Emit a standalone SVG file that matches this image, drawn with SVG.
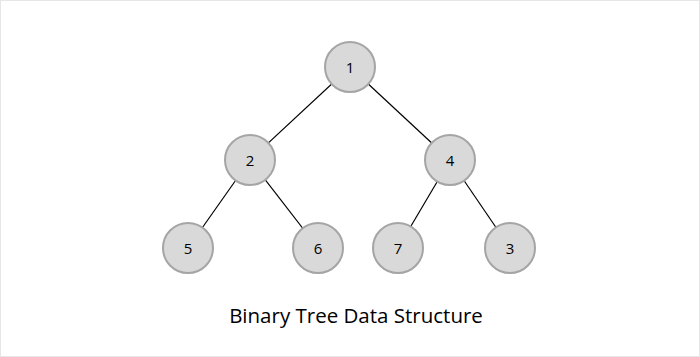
<svg xmlns="http://www.w3.org/2000/svg" width="700" height="357" viewBox="0 0 700 357">
<style>
.n circle{fill:#d9d9d9;stroke:#a5a5a5;stroke-width:2}
.n text{font-family:"Open Sans","Liberation Sans",sans-serif;font-size:15px;fill:#000;text-anchor:middle}
.e line{stroke:#000;stroke-width:1.2}
.t{font-family:"Open Sans","Liberation Sans",sans-serif;font-size:20.5px;fill:#000;text-anchor:middle}
</style>
<rect x="0.5" y="0.5" width="699" height="356" fill="#fff" stroke="#e6e6e6"/>
<g id="edges" class="e">
<line x1="350" y1="67" x2="250" y2="160"/>
<line x1="350" y1="67" x2="450" y2="160"/>
<line x1="250" y1="160" x2="188" y2="248"/>
<line x1="250" y1="160" x2="318" y2="248"/>
<line x1="450" y1="160" x2="398" y2="248"/>
<line x1="450" y1="160" x2="510" y2="248"/>
</g>
<g id="n1" class="n"><circle cx="350" cy="67" r="25"/><text x="350" y="73">1</text></g>
<g id="n2" class="n"><circle cx="250" cy="160" r="25"/><text x="250" y="166">2</text></g>
<g id="n4" class="n"><circle cx="450" cy="160" r="25"/><text x="450" y="166">4</text></g>
<g id="n5" class="n"><circle cx="188" cy="248" r="25"/><text x="188" y="254">5</text></g>
<g id="n6" class="n"><circle cx="318" cy="248" r="25"/><text x="318" y="254">6</text></g>
<g id="n7" class="n"><circle cx="398" cy="248" r="25"/><text x="398" y="254">7</text></g>
<g id="n3" class="n"><circle cx="510" cy="248" r="25"/><text x="510" y="254">3</text></g>
<text class="t" x="356" y="323">Binary Tree Data Structure</text>
</svg>
